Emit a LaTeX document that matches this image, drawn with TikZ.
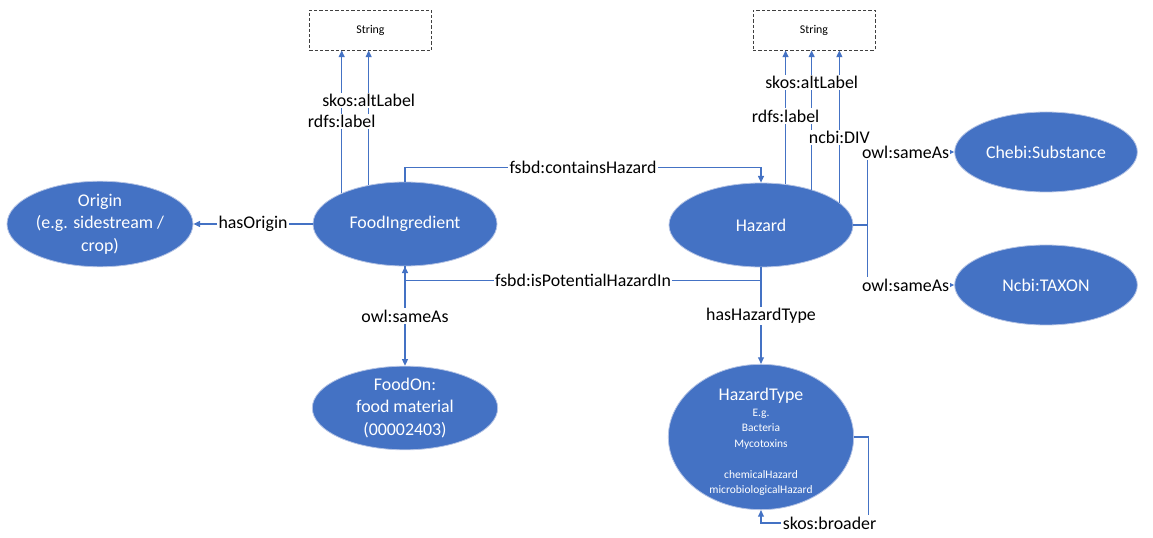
\documentclass[tikz,border=0pt]{standalone}
\usepackage{fontspec}
\setmainfont{Carlito}
\usetikzlibrary{shapes.geometric,arrows.meta}
\definecolor{obl}{HTML}{4472C4}
\definecolor{ledge}{HTML}{B4C3E4}
\begin{document}
\begin{tikzpicture}[x=0.75pt,y=-0.75pt,
  ell/.style={ellipse, fill=obl, draw=ledge, line width=0.6pt, text=white, inner sep=0pt, align=center, font=\fontsize{13.4}{17}\selectfont},
  strbox/.style={draw=black!75, dash pattern=on 2.5pt off 1.5pt, line width=0.7pt, minimum width=92pt, minimum height=30pt, inner sep=0pt, font=\fontsize{8.9}{10}\selectfont},
  conn/.style={draw=obl, line width=0.8pt},
  arr/.style={conn, -{Triangle[length=5pt,width=4.5pt]}},
  lbl/.style={fill=white, inner sep=1pt, text=black, font=\fontsize{13.4}{16}\selectfont}
]
\useasboundingbox (0,0) rectangle (1153,538);

% nodes
\node[strbox] (s1) at (370.5,30) {String};
\node[strbox, minimum width=91.5pt] (s2) at (814,30) {String};
\node[ell, minimum width=139.5pt, minimum height=63pt] (orig) at (100,224) {Origin\\(e.g. sidestream /\\crop)};
\node[ell, minimum width=138pt, minimum height=63pt] (fi) at (405,224) {FoodIngredient};
\node[ell, minimum width=138pt, minimum height=63pt] (hz) at (761,225) {Hazard};
\node[ell, minimum width=137pt, minimum height=60pt] (ch) at (1046,152) {Chebi:Substance};
\node[ell, minimum width=137pt, minimum height=60pt] (nc) at (1046,285) {Ncbi:TAXON};
\node[ell, minimum width=139pt, minimum height=62pt, font=\fontsize{13.4}{16.6}\selectfont] (fo) at (405,408) {FoodOn:\\food material\\(00002403)};
\node[ell, minimum width=139pt, minimum height=109pt] (ht) at (761,437) {};
\node[text=white, align=center, inner sep=0pt, font=\fontsize{8.6}{11.6}\selectfont] (httext) at (761,442)
  {{\fontsize{13.4}{16}\selectfont HazardType}\\E.g.\\Bacteria\\Mycotoxins\\[11.6pt]chemicalHazard\\microbiologicalHazard};

% connectors
\draw[arr] (fi.154.7) -- (fi.154.7 |- s1.south);
\draw[arr] (fi.133.9) -- (fi.133.9 |- s1.south);
\draw[arr] (hz.59.4) -- (hz.59.4 |- s2.south);
\draw[arr] (hz.35.2) -- (hz.35.2 |- s2.south);
\draw[arr] (hz.16.6) -- (hz.16.6 |- s2.south);
\draw[arr] (fi.west) -- (orig.east);
\draw[arr] (fi.north) -- ++(0,-14) -| (hz.north);
\draw[arr] (hz.south) -- ++(0,13) -| (fi.south);
\draw[arr] (hz.south) -- (ht.north);
\draw[arr] (fi.south) -- (fo.north);
\draw[arr] (hz.east) -- ++(14,0) |- (ch.west);
\draw[arr] (hz.east) -- ++(14,0) |- (nc.west);
\draw[arr] (ht.east) -- ++(14,0) -- ++(0,86) -| (ht.south);

% labels
\path (fi.154.7) -- (fi.154.7 |- s1.south) node[lbl,pos=0.5]{rdfs:label};
\path (fi.133.9) -- (fi.133.9 |- s1.south) node[lbl,pos=0.63]{skos:altLabel};
\path (hz.59.4) -- (hz.59.4 |- s2.south) node[lbl,pos=0.51]{rdfs:label};
\path (hz.16.6) -- (hz.16.6 |- s2.south) node[lbl,pos=0.43]{ncbi:DIV};
\path (hz.35.2) -- (hz.35.2 |- s2.south) node[lbl,pos=0.77]{skos:altLabel};
\path (fi.west) -- (orig.east) node[lbl,midway]{hasOrigin};
\path (fi.north) -- ++(0,-14) -| node[lbl,pos=0.25]{fsbd:containsHazard} (hz.north);
\path (hz.south) -- ++(0,13) -| node[lbl,pos=0.25]{fsbd:isPotentialHazardIn} (fi.south);
\path (hz.south) -- (ht.north) node[lbl,midway]{hasHazardType};
\path (fi.south) -- (fo.north) node[lbl,midway]{owl:sameAs};
\path (hz.east) -- ++(14,0) |- node[lbl,pos=0.72]{owl:sameAs} (ch.west);
\path (hz.east) -- ++(14,0) |- node[lbl,pos=0.72]{owl:sameAs} (nc.west);
\path (ht.east) -- ++(14,0) -- ++(0,86) -| node[lbl,pos=0.18]{skos:broader} (ht.south);
\end{tikzpicture}
\end{document}
